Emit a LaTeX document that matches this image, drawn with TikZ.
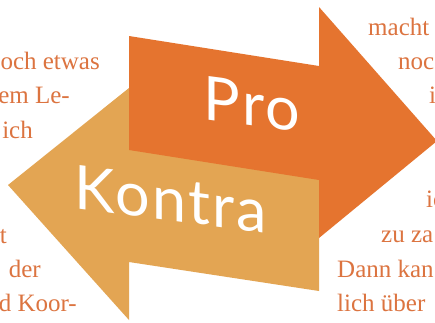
\documentclass[tikz,border=0pt]{standalone}
\usepackage{fontspec}
\newfontfamily\arrowfont[LetterSpace=4]{Lato}
\newfontfamily\bodyfont{Liberation Serif}
\definecolor{proC}{HTML}{E5742F}
\definecolor{kontraC}{HTML}{E3A553}
\definecolor{textC}{HTML}{DC7440}
\tikzset{
  pro/.style={fill=proC},
  kontra/.style={fill=kontraC},
  bigword/.style={text=white, font=\arrowfont\fontsize{61}{61}\selectfont, yslant=-0.13, inner sep=0pt},
  lefttext/.style={text=textC, font=\bodyfont\fontsize{25}{28}\selectfont, anchor=base east, inner sep=0pt},
  righttext/.style={text=textC, font=\bodyfont\fontsize{25}{28}\selectfont, anchor=base west, inner sep=0pt}
}
\begin{document}
\begin{tikzpicture}[x=1pt,y=-1pt]
\useasboundingbox (0,0) rectangle (435,322);
\clip (0,0) rectangle (435,322);
\fill[white] (0,0) rectangle (435,322);
% Kontra arrow (left)
\fill[kontra] (319,178) -- (319,291) -- (129,262) -- (129,320) -- (8,185) -- (129,88) -- (129,149) -- cycle;
% Pro arrow (right)
\fill[pro] (129,36) -- (319,66) -- (319,7) -- (437,141) -- (319,238) -- (319,180) -- (129,150) -- cycle;
\node[bigword] (protext) at (252,104) {Pro};
\node[bigword] (kontratext) at (171,199) {Kontra};
% left column
\node[lefttext] (l1) at (100,69) {och etwas};
\node[lefttext] (l2) at (70,103.5) {em Le-};
\node[lefttext] (l3) at (33,138) {ich};
\node[lefttext] (l4) at (7,243) {t};
\node[lefttext] (l5) at (41,277) {der};
\node[lefttext] (l6) at (77,311) {d Koor-};
% right column
\node[righttext] (r1) at (368,35) {macht};
\node[righttext] (r2) at (398,69) {noc};
\node[righttext] (r3) at (429,103) {i};
\node[righttext] (r4) at (426,207) {ic};
\node[righttext] (r5) at (381,242) {zu za};
\node[righttext] (r6) at (337,277) {Dann kan};
\node[righttext] (r7) at (337,311) {lich über};
\end{tikzpicture}
\end{document}
